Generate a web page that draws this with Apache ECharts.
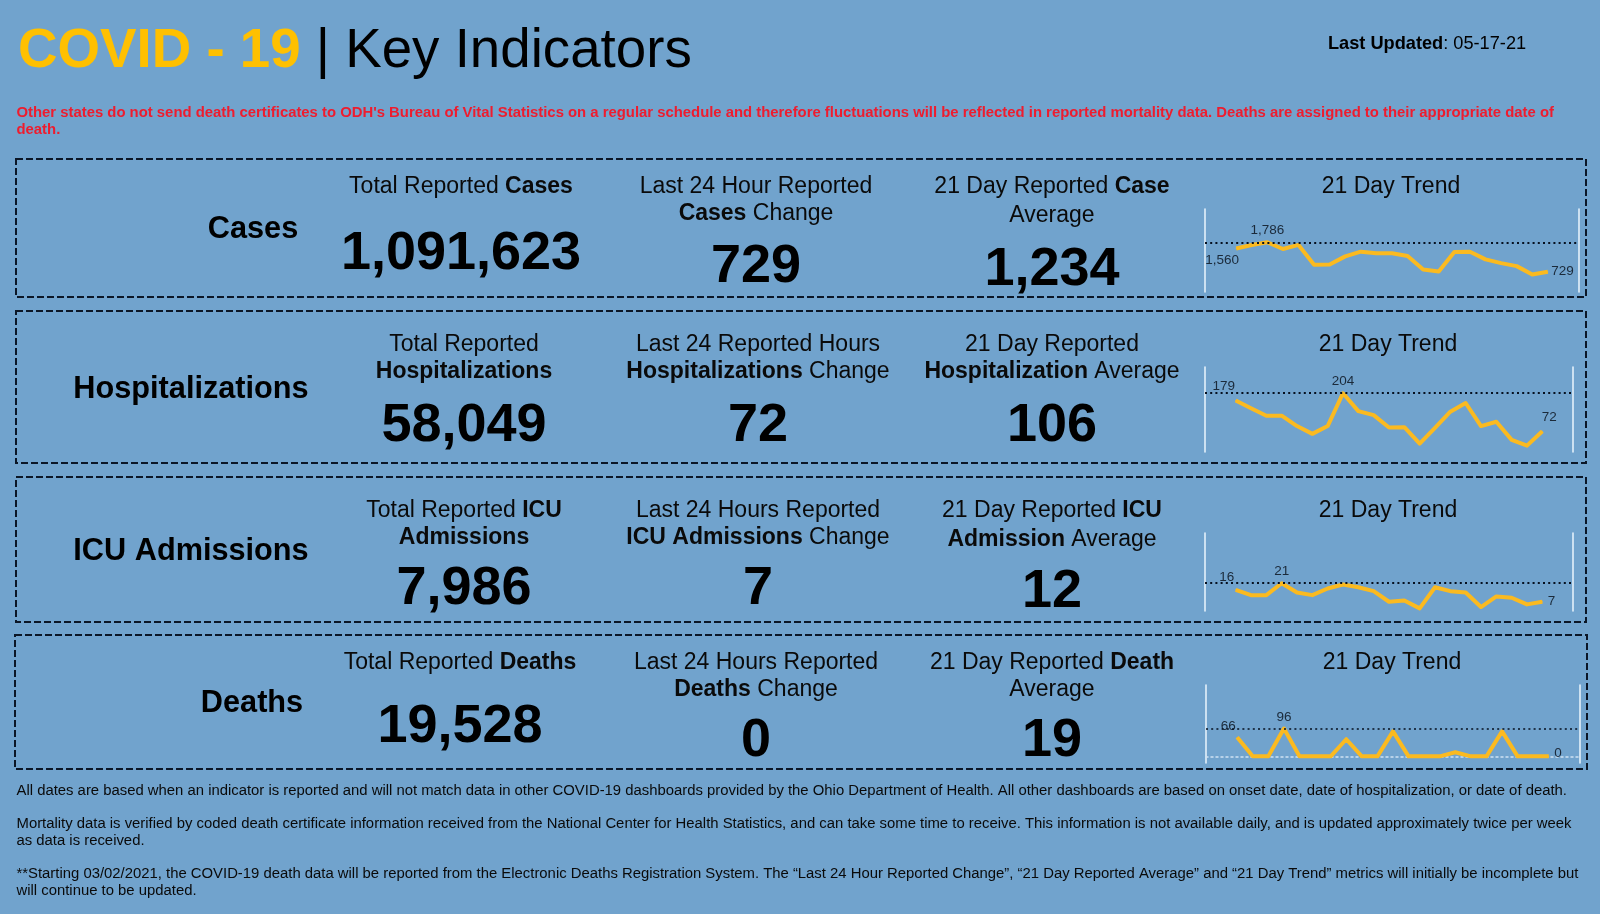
<!DOCTYPE html>
<html><head><meta charset="utf-8">
<style>html,body{margin:0;padding:0;background:#71a3cd}#c{width:1600px;height:914px}</style>
<script src="https://cdn.jsdelivr.net/npm/echarts@6/dist/echarts.min.js"></script>
</head><body><div id="c"></div>
<script>
// ---- data ----
const casesTrend = [1560,1690,1786,1545,1690,978,990,1279,1448,1388,1388,1291,809,736,1436,1448,1171,1038,929,628,729];
const hospTrend  = [179,152,126,126,90,63,90,204,142,128,85,86,29,84,140,170,90,105,42,22,72];
const icuTrend   = [16,12,12,21,14,12,17,20,18,15,7,8,2,18,15,14,3,11,10,5,7];
const deathTrend = [66,0,0,96,0,0,0,59,0,0,86,0,0,0,14,0,0,86,0,0,0];

const rowLabels   = ['Cases','Hospitalizations','ICU Admissions','Deaths'];
const totals      = ['1,091,623','58,049','7,986','19,528'];
const changes     = ['729','72','7','0'];
const averages    = ['1,234','106','12','19'];
const trendTitle  = '21 Day Trend';

const totalHeads  = [['{n|Total Reported }{b|Cases}'],['{n|Total Reported}','{b|Hospitalizations}'],['{n|Total Reported }{b|ICU}','{b|Admissions}'],['{n|Total Reported }{b|Deaths}']];
const changeHeads = [['{n|Last 24 Hour Reported}','{b|Cases }{n|Change}'],['{n|Last 24 Reported Hours}','{b|Hospitalizations }{n|Change}'],['{n|Last 24 Hours Reported}','{b|ICU Admissions }{n|Change}'],['{n|Last 24 Hours Reported}','{b|Deaths }{n|Change}']];
const avgHeads    = [['{n|21 Day Reported }{b|Case}','{n|Average}'],['{n|21 Day Reported}','{b|Hospitalization }{n|Average}'],['{n|21 Day Reported }{b|ICU}','{b|Admission }{n|Average}'],['{n|21 Day Reported }{b|Death}','{n|Average}']];

const redNote = ["Other states do not send death certificates to ODH's Bureau of Vital Statistics on a regular schedule and therefore fluctuations will be reflected in reported mortality data. Deaths are assigned to their appropriate date of","death."];
const footNotes = [
 'All dates are based when an indicator is reported and will not match data in other COVID-19 dashboards provided by the Ohio Department of Health. All other dashboards are based on onset date, date of hospitalization, or date of death.',
 'Mortality data is verified by coded death certificate information received from the National Center for Health Statistics, and can take some time to receive. This information is not available daily, and is updated approximately twice per week',
 'as data is received.',
 '**Starting 03/02/2021, the COVID-19 death data will be reported from the Electronic Deaths Registration System. The \u201cLast 24 Hour Reported Change\u201d, \u201c21 Day Reported Average\u201d and \u201c21 Day Trend\u201d metrics will initially be incomplete but',
 'will continue to be updated.'];

// ---- layout ----
const FONT = '"Liberation Sans", Arial, sans-serif';
const g = [];
function txt(x,y,text,size,opt){opt=opt||{};
  g.push({type:'text',x:x,y:y,silent:true,z:10,style:{text:text,fontFamily:FONT,fontSize:size,fontWeight:opt.w||'normal',fill:opt.c||'#000',align:opt.a||'center',verticalAlign:opt.v||'middle',rich:opt.rich}});
}
const HS=23;
const headRich = {n:{fontFamily:FONT,fontSize:HS,fill:'#0a0a0a',fontWeight:'normal'},b:{fontFamily:FONT,fontSize:HS,fill:'#0a0a0a',fontWeight:'bold'}};
function head(x,ys,lines){lines.forEach((l,i)=>txt(x,ys[i],l,HS,{rich:headRich}));}

// title
const titleRich={y:{fontFamily:FONT,fontSize:54.7,fontWeight:'bold',fill:'#FFC000'},k:{fontFamily:FONT,fontSize:54.7,fill:'#000'}};
txt(18,52,'{y|COVID - 19}{k| | Key Indicators}',54.7,{a:'left',rich:titleRich});
txt(1328,44,'{b|Last Updated}{n|: 05-17-21}',18.2,{a:'left',rich:{b:{fontFamily:FONT,fontSize:18.2,fontWeight:'bold',fill:'#000'},n:{fontFamily:FONT,fontSize:18.2,fill:'#000'}}});
redNote.forEach((l,i)=>txt(16.5,113+i*17,l,14.87,{a:'left',w:'bold',c:'#EE1C2E'}));
[791,824,841,874,891].forEach((y,i)=>txt(16.5,y,footNotes[i],14.87,{a:'left',c:'#0a0a0a'}));

// boxes
const boxes=[[16,159,1570,138],[16,311,1570,152],[16,477,1570,145],[15,635,1572,134]];
boxes.forEach(b=>g.push({type:'rect',silent:true,shape:{x:b[0],y:b[1],width:b[2],height:b[3]},style:{fill:'none',stroke:'#0b1626',lineWidth:2,lineDash:[7,3]}}));

const labelPos=[[253,230],[191,390],[191,552],[252,704]];
const col1=[461,464,464,460], col2=[756,758,758,756], col3=[1052,1052,1052,1052], col4=[1391,1388,1388,1392];
const headY=[[187,214],[345,372],[511,538],[663,690]];
const avgHeadY=[[187,216],[345,372],[511,540],[663,690]];
const numY1=[254,426,589,727], numY2=[267,426,589,741], numY3=[270,426,592,741];
rowLabels.forEach((l,i)=>{
  txt(labelPos[i][0],labelPos[i][1],l,30.7,{w:'bold'});
  head(col1[i],headY[i],totalHeads[i]);
  head(col2[i],headY[i],changeHeads[i]);
  head(col3[i],avgHeadY[i],avgHeads[i]);
  txt(col4[i],headY[i][0],trendTitle,HS,{c:'#0a0a0a'});
  txt(col1[i],numY1[i],totals[i],54,{w:'bold'});
  txt(col2[i],numY2[i],changes[i],54,{w:'bold'});
  txt(col3[i],numY3[i],averages[i],54,{w:'bold'});
});

// ---- sparkline charts ----
const trends=[casesTrend,hospTrend,icuTrend,deathTrend];
const yRange=[[0,2980],[0,295],[0,59],[-23,246]];
const grids=[{left:1205,width:374,top:209,height:83},{left:1205,width:368,top:367,height:85},{left:1205,width:368,top:533,height:78},{left:1206,width:374,top:685,height:78}];
const lblFirst=[[-14,12],[-12,-14],[-9,-13],[-9,-11]];
const lblLast=[['right',[-2,0]],['top',[7,-1]],['right',[0,0]],['right',[0,-3]]];
const xAxes=[],yAxes=[],series=[];
trends.forEach((t,i)=>{
  xAxes.push({gridIndex:i,type:'value',min:-2,max:22,splitLine:{show:false},axisTick:{show:false},axisLabel:{show:false},
    axisLine:{show:i===3,lineStyle:{color:'#cfe2f2',type:[2,3],width:1.5}}});
  const ya={gridIndex:i,type:'value',min:yRange[i][0],max:yRange[i][1],splitLine:{show:false},axisTick:{show:false},axisLabel:{show:false},
    axisLine:{show:true,onZero:false,lineStyle:{color:'#e4f0fa',width:1.6}}};
  yAxes.push(Object.assign({position:'left'},ya),Object.assign({position:'right'},ya));
  const maxV=Math.max.apply(null,t), maxI=t.indexOf(maxV);
  const lab={show:true,color:'#1b2a3a',fontSize:13.5,fontFamily:FONT,formatter:p=>p.value[1].toLocaleString('en-US')};
  series.push({type:'line',xAxisIndex:i,yAxisIndex:i*2,silent:true,animation:false,
    data:t.map((v,k)=>{
      const it={value:[k,v]};
      if(k===0) it.label=Object.assign({},lab,{position:'inside',offset:lblFirst[i]});
      else if(k===maxI) it.label=Object.assign({},lab,{position:'top',distance:4});
      else if(k===t.length-1) it.label=Object.assign({},lab,{position:lblLast[i][0],offset:lblLast[i][1],distance:5});
      return it;
    }),
    symbol:'circle',symbolSize:1,showSymbol:true,showAllSymbol:true,
    lineStyle:{color:'#FBBA20',width:4,join:'round'},itemStyle:{color:'#FBBA20'},
    markLine:{silent:true,symbol:'none',animation:false,label:{show:false},
      lineStyle:{color:'#06101f',type:[2,3.2],width:i===3?1.6:2.2,cap:'butt'},
      data:[{yAxis:maxV}]}
  });
});

const chart=echarts.init(document.getElementById('c'),null,{renderer:'canvas'});
chart.setOption({animation:false,backgroundColor:'#71a3cd',grid:grids,xAxis:xAxes,yAxis:yAxes,series:series,graphic:{elements:g}});
</script></body></html>
